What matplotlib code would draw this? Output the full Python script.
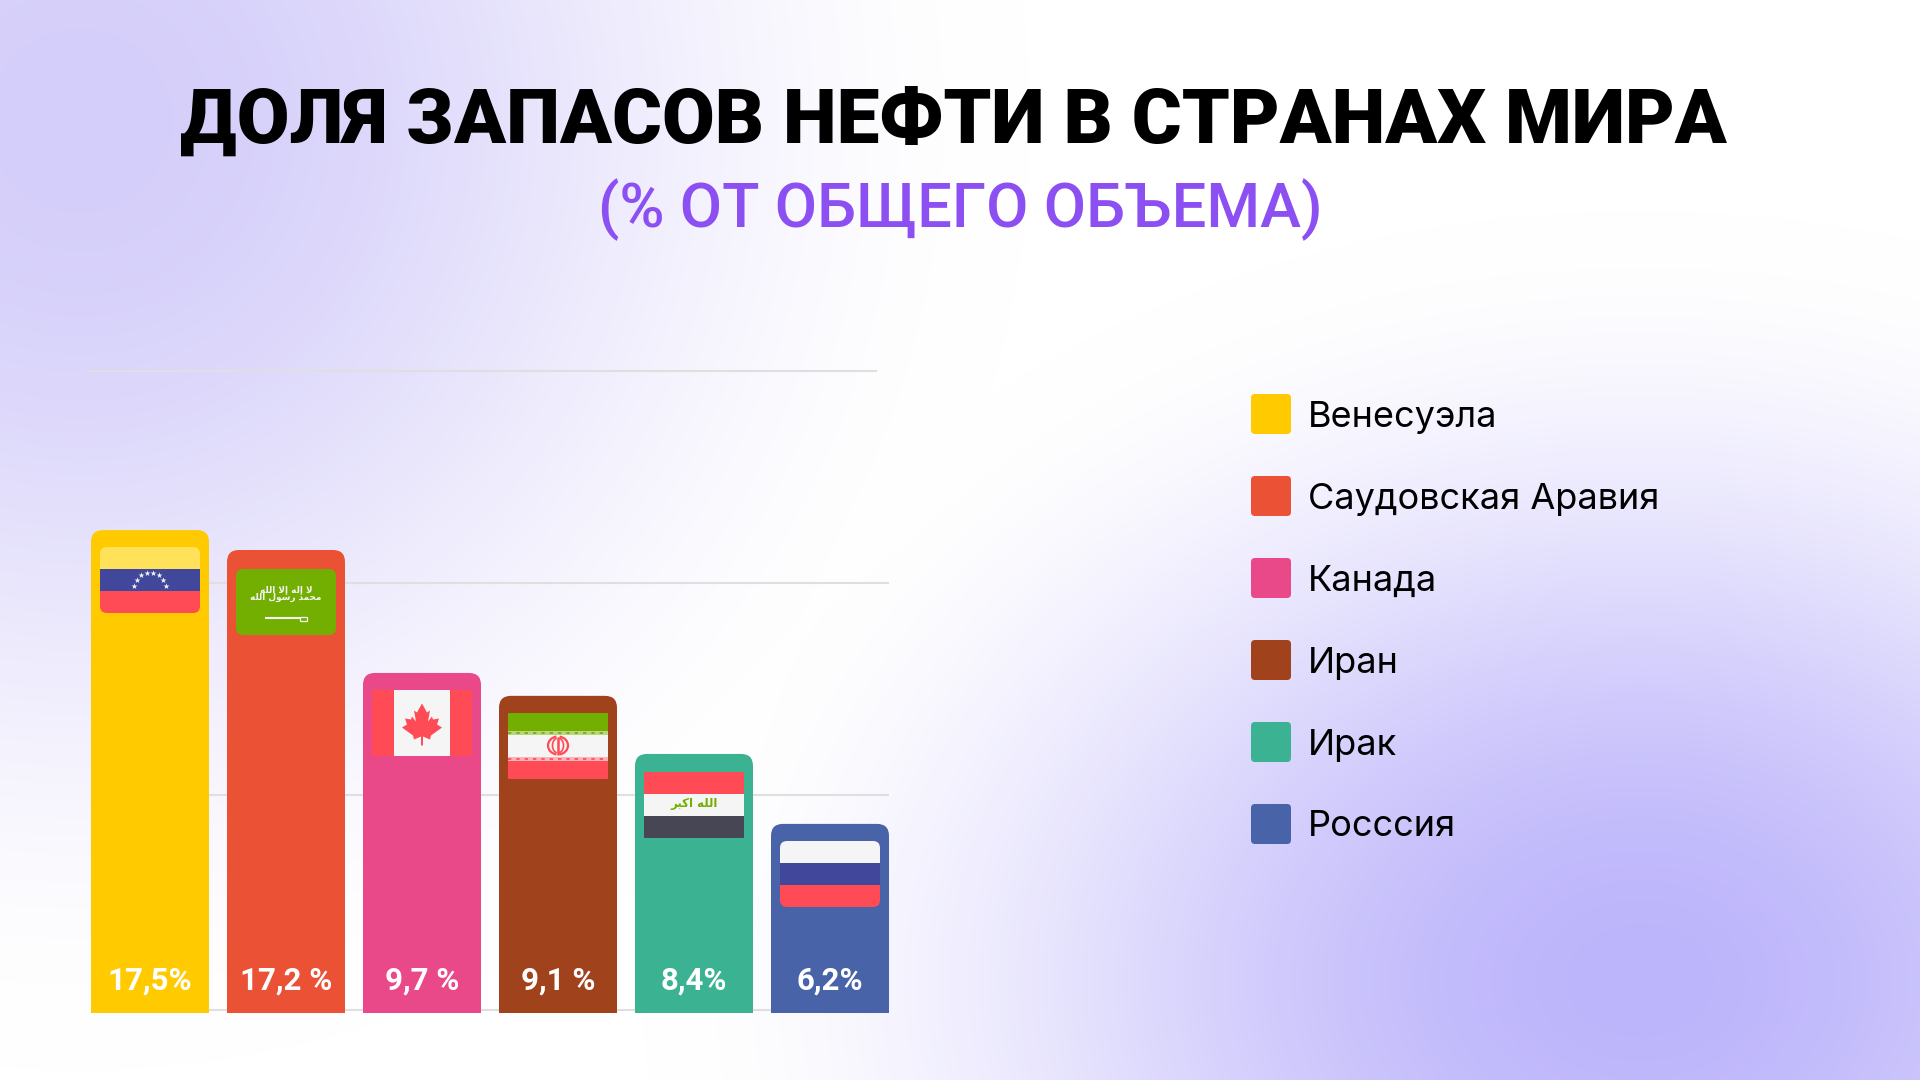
import matplotlib
matplotlib.use("Agg")
import matplotlib.pyplot as plt
import numpy as np
from matplotlib.patches import FancyBboxPatch, PathPatch, Polygon, Rectangle, Arc
from matplotlib.path import Path

# values as printed on the bars, kept as the source wrote them
countries = ["Венесуэла", "Саудовская Аравия", "Канада", "Иран", "Ирак", "Росссия"]
value_labels = ["17,5%", "17,2 %", "9,7 %", "9,1 %", "8,4%", "6,2%"]
# drawn bar heights, read against the gridlines (the bars are not to scale with the labels)
bar_heights = [11.39, 10.92, 8.02, 7.48, 6.11, 4.46]
bar_colors = ["#FFCB00", "#EB5135", "#E94889", "#A0421B", "#3BB393", "#4963A9"]
grid_levels = [0.07, 5.14, 10.14, 15.13]

RED = "#FF4B55"
WHITE = "#F5F5F5"
BLUE = "#41479B"
GREEN = "#73AF00"
YELLOW = "#FFE15A"
DARK = "#464655"
GRID = "#E0DFDF"

W, H = 1920, 1080
PX_X = 136.0  # pixels per bar slot
PX_Y = 42.4   # pixels per height unit
plt.rcParams["font.family"] = ["Inter", "DejaVu Sans"]

fig = plt.figure(figsize=(W / 100, H / 100), dpi=100)

# whole-figure axes in pixels, y down, for background, text and legend
bg = fig.add_axes([0, 0, 1, 1], zorder=0)
bg.set_xlim(0, W)
bg.set_ylim(H, 0)
bg.axis("off")


def glow(d):
    return 0.5 * (1 + np.cos(np.pi * np.clip(d, 0, 1)))


yy, xx = np.mgrid[0:H, 0:W]
top_left = glow(np.hypot(xx - 80, yy - 120) / 950)
bottom_right = glow(np.hypot((xx - 1640) / 1000, (yy - 980) / 770))
image = np.ones((H, W, 3))
for i, (c1, c2) in enumerate(zip((0xD4, 0xCE, 0xFA), (0xBD, 0xB5, 0xFB))):
    image[:, :, i] = 1 - top_left * (1 - c1 / 255) - bottom_right * (1 - c2 / 255)
bg.imshow(np.clip(image, 0, 1), extent=(0, W, H, 0), aspect="auto", zorder=0)

bg.text(953, 143, "ДОЛЯ ЗАПАСОВ НЕФТИ В СТРАНАХ МИРА", ha="center", va="baseline",
        fontsize=55, fontweight=900, family=["Roboto", "DejaVu Sans"], color="black")
bg.text(960, 227, "(% ОТ ОБЩЕГО ОБЪЕМА)", ha="center", va="baseline",
        fontsize=44.2, fontweight="medium", family=["Roboto", "DejaVu Sans"], color="#8C4FF2")

# legend
for i, (name, color) in enumerate(zip(countries, bar_colors)):
    y = 394 + i * 82
    bg.add_patch(FancyBboxPatch((1255, y + 4), 32, 32, boxstyle="round,pad=4,rounding_size=4",
                                fc=color, ec="none", zorder=2))
    bg.text(1308, y + 23, name, ha="left", va="center", fontsize=26, color="black", zorder=2)

# chart axes: pixel box 91..889 wide, baseline at 1013
ax = fig.add_axes([91 / W, 1 - 1013 / H, 798 / W, (1013 - 300) / H], zorder=1)
ax.patch.set_alpha(0)
ax.set_xlim(-0.4338, 5.4338)
ax.set_ylim(0, (1013 - 300) / PX_Y)
ax.axis("off")

for level in grid_levels[:3]:
    ax.plot([-0.4338, 5.4338], [level, level], color=GRID, lw=1.5, zorder=1, solid_capstyle="butt")
# the top gridline starts left of the first bar and stops short of the last
ax.plot([-0.47, 5.345], [grid_levels[3]] * 2, color=GRID, lw=1.5, zorder=1,
        solid_capstyle="butt", clip_on=False)


def round_top_path(left, right, top, rx, ry):
    verts = [(left, 0), (left, top - ry), (left, top), (left + rx, top),
             (right - rx, top), (right, top), (right, top - ry), (right, 0), (left, 0)]
    codes = [Path.MOVETO, Path.LINETO, Path.CURVE3, Path.CURVE3,
             Path.LINETO, Path.CURVE3, Path.CURVE3, Path.LINETO, Path.CLOSEPOLY]
    return Path(verts, codes)


x_pos = np.arange(len(countries))
bars = ax.bar(x_pos, bar_heights, width=118 / PX_X, color=bar_colors, alpha=0)
for bar, color, label in zip(bars, bar_colors, value_labels):
    left = bar.get_x()
    right = left + bar.get_width()
    top = bar.get_height()
    ax.add_patch(PathPatch(round_top_path(left, right, top, 12 / PX_X, 12 / PX_Y),
                           fc=color, ec="none", zorder=3))
    ax.annotate(label, ((left + right) / 2, 0), xytext=(0, 23), textcoords="offset pixels",
                ha="center", va="baseline", fontsize=22.5, fontweight="bold",
                family=["Roboto", "DejaVu Sans"], color="white", zorder=4)

# flags go on top, drawn in pixels on their own overlay
ov = fig.add_axes([0, 0, 1, 1], zorder=2)
ov.set_xlim(0, W)
ov.set_ylim(H, 0)
ov.axis("off")
ov.patch.set_alpha(0)


def flag_clip(x, y, r):
    p = FancyBboxPatch((x + r, y + r), 100 - 2 * r, 66 - 2 * r,
                       boxstyle=f"round,pad={r},rounding_size={r}", fc="none", ec="none",
                       transform=ov.transData)
    ov.add_patch(p)
    return p


def stripes(x, y, colors, r):
    clip = flag_clip(x, y, r)
    n = len(colors)
    for i, c in enumerate(colors):
        rect = Rectangle((x, y + i * 66 / n), 100, 66 / n, fc=c, ec="none", zorder=5)
        ov.add_patch(rect)
        rect.set_clip_path(clip)


# Venezuela
stripes(100, 547, [YELLOW, BLUE, RED], 7)
angles = np.radians(np.linspace(170, 10, 8))
ov.scatter(150 + 16 * np.cos(angles), 588.5 - 16 * np.sin(angles), marker="*", s=20, c=WHITE, lw=0, zorder=6)

# Saudi Arabia
stripes(236, 569, [GREEN], 7)
ov.text(286, 594, "\uFEEA\uFEE0\uFEDF\uFE8D \uFEFB\uFE87 \uFEEA\uFEDF\uFE87 \uFEFB\n"
                  "\uFEEA\uFEE0\uFEDF\uFE8D \uFEDD\uFEEE\uFEB3\uFEAD \uFEAA\uFEE4\uFEA4\uFEE3",
        ha="center", va="center", fontsize=6.4, fontweight="bold", linespacing=0.8, color=WHITE,
        family="DejaVu Sans", zorder=6)
ov.plot([265, 300], [618.3, 618.3], color=WHITE, lw=1.5, zorder=6, solid_capstyle="butt")
ov.add_patch(Rectangle((300, 617), 7, 3.5, fc="none", ec=WHITE, lw=0.9, zorder=6))

# Canada
stripes(372, 690, [RED], 1)
ov.add_patch(Rectangle((394.3, 690), 55.4, 66, fc=WHITE, ec="none", zorder=6))
leaf = np.array([(0, -20), (-5, -11), (-8, -13), (-6, -2), (-10, -7), (-11, -4), (-17, -5), (-15, 1),
                 (-20, 4), (-9, 12), (-8, 16), (-1, 13), (-1, 22), (1, 22), (1, 13), (8, 16), (9, 12),
                 (20, 4), (15, 1), (17, -5), (11, -4), (10, -7), (6, -2), (8, -13), (5, -11)])
ov.add_patch(Polygon(leaf + [422, 723.5], closed=True, fc=RED, ec="none", zorder=7))

# Iran
stripes(508, 713, [GREEN, WHITE, RED], 1)
ov.add_patch(Rectangle((508, 731), 100, 4, fc="#B9D67E", ec="none", zorder=6))
ov.add_patch(Rectangle((508, 757), 100, 4, fc="#FBB4B8", ec="none", zorder=6))
ov.plot([508, 608], [733, 733], color=GREEN, lw=1.2, ls=(0, (2, 3)), zorder=7)
ov.plot([508, 608], [759, 759], color=RED, lw=1.2, ls=(0, (2, 3)), zorder=7)
ov.add_patch(Arc((558, 745.5), 20, 18, theta1=100, theta2=260, ec=RED, lw=1.6, zorder=6))
ov.add_patch(Arc((558, 745.5), 20, 18, theta1=-80, theta2=80, ec=RED, lw=1.6, zorder=6))
ov.add_patch(Arc((558, 745.5), 11, 15, theta1=100, theta2=260, ec=RED, lw=1.2, zorder=6))
ov.add_patch(Arc((558, 745.5), 11, 15, theta1=-80, theta2=80, ec=RED, lw=1.2, zorder=6))
ov.plot([558, 558], [737, 755], color=RED, lw=1.8, zorder=6, solid_capstyle="butt")

# Iraq
stripes(644, 772, [RED, WHITE, DARK], 1)
ov.text(694, 804, "\uFEAE\uFE92\uFEDB\uFE8D \uFEEA\uFEE0\uFEDF\uFE8D", ha="center", va="center", fontsize=8.5,
        fontweight="bold", color=GREEN, family="DejaVu Sans", zorder=6)

# Russia
stripes(780, 841, [WHITE, BLUE, RED], 7)

fig.savefig("out.png", dpi=100)
